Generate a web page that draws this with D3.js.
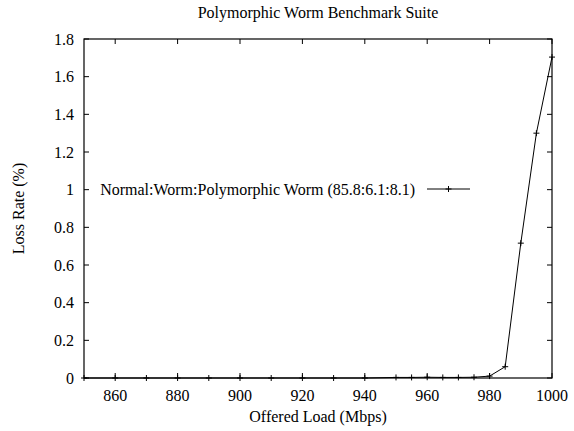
<!DOCTYPE html>
<html>
<head>
<meta charset="utf-8">
<script src="https://cdn.jsdelivr.net/npm/d3@7"></script>
<style>
  body { margin: 0; background: #fff; }
</style>
</head>
<body>
<div id="chart"></div>
<script>
// Data
const loads = [850, 860, 870, 880, 890, 900, 910, 920, 930, 940, 950, 955, 960, 965, 970, 975, 980, 985, 990, 995, 1000];
const lossRates = [0, 0, 0, 0, 0, 0, 0, 0, 0, 0, 0.003, 0.003, 0.004, 0.003, 0.003, 0.004, 0.01, 0.06, 0.716, 1.30, 1.704];
const xTicks = [860, 880, 900, 920, 940, 960, 980, 1000];
const yTicks = [0, 0.2, 0.4, 0.6, 0.8, 1, 1.2, 1.4, 1.6, 1.8];
const seriesName = "Normal:Worm:Polymorphic Worm (85.8:6.1:8.1)";

const width = 574;
const height = 431;
const margin = { top: 39, right: 22, bottom: 53, left: 84 };

const svg = d3.select("#chart")
  .append("svg")
  .attr("width", width)
  .attr("height", height)
  .attr("font-family", "'Liberation Serif', 'Times New Roman', serif");

const x = d3.scaleLinear().domain([850, 1000]).range([margin.left, width - margin.right]);
const y = d3.scaleLinear().domain([0, 1.8]).range([height - margin.bottom, margin.top]);

const fontSize = 16;
const tickLen = 5;

// Ticks on all four sides, pointing inward
const g = svg.append("g").attr("stroke", "#000").attr("stroke-width", 1);
xTicks.forEach((t) => {
  g.append("line").attr("x1", x(t)).attr("x2", x(t))
    .attr("y1", y(0)).attr("y2", y(0) - tickLen);
  g.append("line").attr("x1", x(t)).attr("x2", x(t))
    .attr("y1", y(1.8)).attr("y2", y(1.8) + tickLen);
});
yTicks.forEach((t) => {
  g.append("line").attr("x1", x(850)).attr("x2", x(850) + tickLen)
    .attr("y1", y(t)).attr("y2", y(t));
  g.append("line").attr("x1", x(1000)).attr("x2", x(1000) - tickLen)
    .attr("y1", y(t)).attr("y2", y(t));
});

// Frame
svg.append("rect")
  .attr("x", x(850)).attr("y", y(1.8))
  .attr("width", x(1000) - x(850)).attr("height", y(0) - y(1.8))
  .attr("fill", "none").attr("stroke", "#000").attr("stroke-width", 1.2);

// Tick labels
svg.append("g").selectAll("text").data(xTicks).join("text")
  .attr("x", (d) => x(d)).attr("y", y(0) + 23)
  .attr("text-anchor", "middle").style("font-size", fontSize + "px")
  .text((d) => d);
svg.append("g").selectAll("text").data(yTicks).join("text")
  .attr("x", x(850) - 10).attr("y", (d) => y(d) + 5.5)
  .attr("text-anchor", "end").style("font-size", fontSize + "px")
  .text((d) => d);

// Titles
svg.append("text")
  .attr("x", (x(850) + x(1000)) / 2).attr("y", 18)
  .attr("text-anchor", "middle").style("font-size", fontSize + "px")
  .text("Polymorphic Worm Benchmark Suite");
svg.append("text")
  .attr("x", (x(850) + x(1000)) / 2).attr("y", 422)
  .attr("text-anchor", "middle").style("font-size", fontSize + "px")
  .text("Offered Load (Mbps)");
svg.append("text")
  .attr("transform", `translate(24, ${(y(0) + y(1.8)) / 2}) rotate(-90)`)
  .attr("text-anchor", "middle").style("font-size", fontSize + "px")
  .text("Loss Rate (%)");

// Data line and point markers
const pts = loads.map((d, i) => [d, lossRates[i]]);
svg.append("path")
  .datum(pts)
  .attr("fill", "none").attr("stroke", "#000").attr("stroke-width", 1)
  .attr("d", d3.line().x((d) => x(d[0])).y((d) => y(d[1])));

function plus(sel, cx, cy) {
  sel.append("path")
    .attr("d", `M${cx - 3},${cy}H${cx + 3}M${cx},${cy - 3}V${cy + 3}`)
    .attr("stroke", "#000").attr("stroke-width", 1);
}
const marks = svg.append("g");
pts.forEach((d) => plus(marks, x(d[0]), y(d[1])));

// Legend
const ly = 189;
svg.append("text")
  .attr("x", 415).attr("y", ly + 5.5)
  .attr("text-anchor", "end").style("font-size", fontSize + "px")
  .text(seriesName);
svg.append("line")
  .attr("x1", 427).attr("x2", 470).attr("y1", ly).attr("y2", ly)
  .attr("stroke", "#000").attr("stroke-width", 1);
plus(svg, 448.5, ly);
</script>
</body>
</html>
